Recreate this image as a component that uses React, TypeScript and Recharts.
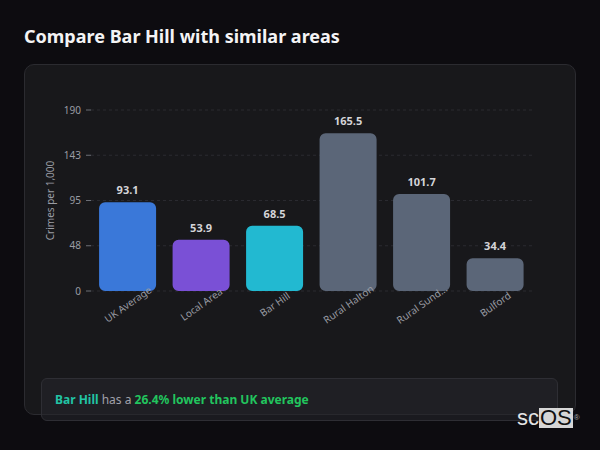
import { Bar, BarChart, CartesianGrid, Cell, LabelList, XAxis, YAxis } from "recharts";

const areas = ["UK Average", "Local Area", "Bar Hill", "Rural Halton", "Rural Sunderland", "Bulford"];
const rates = [93.1, 53.9, 68.5, 165.5, 101.7, 34.4];
const barColors = ["#3a78d9", "#7a50d6", "#22b9d1", "#5b6678", "#5b6678", "#5b6678"];
const yTicks = [0, 47.5, 95, 142.5, 190];

const data = areas.map((name, i) => ({ name, value: rates[i], color: barColors[i] }));

const FONT = "'Noto Sans', 'Open Sans', sans-serif";

// category label, centred under the bar and tilted
function AreaTick({ x, y, payload }: any) {
  const raw: string = payload.value;
  const text = raw.length > 12 ? raw.slice(0, 10) + "..." : raw;
  const ty = y + 5;
  return (
    <text
      x={x}
      y={ty}
      transform={`rotate(-35, ${x}, ${ty})`}
      textAnchor="middle"
      dominantBaseline="central"
      fill="#9a9ca4"
      fontSize={10}
      fontFamily={FONT}
    >
      {text}
    </text>
  );
}

export default function App() {
  return (
    <div
      style={{
        position: "absolute",
        left: 0,
        top: 0,
        width: 600,
        height: 450,
        background: "#0d0c10",
        fontFamily: FONT,
        overflow: "hidden",
      }}
    >
      <div
        style={{
          position: "absolute",
          left: 24,
          top: 24,
          fontSize: 18,
          fontWeight: 700,
          color: "#f4f4f5",
          lineHeight: "24px",
        }}
      >
        Compare Bar Hill with similar areas
      </div>

      <div
        style={{
          position: "absolute",
          left: 24,
          top: 64,
          width: 552,
          height: 351,
          boxSizing: "border-box",
          border: "1px solid #2b2b30",
          borderRadius: 10,
          background: "#18181b",
        }}
      />

      <div style={{ position: "absolute", left: 24, top: 64 }}>
        <BarChart
          width={552}
          height={310}
          data={data}
          margin={{ top: 46, right: 44, bottom: 0, left: 0 }}
          barCategoryGap="11%"
        >
          <CartesianGrid vertical={false} stroke="#2a2a30" strokeDasharray="3 3" />
          <XAxis
            dataKey="name"
            axisLine={false}
            tickLine={false}
            interval={0}
            height={83}
            tick={<AreaTick />}
          />
          <YAxis
            width={67}
            domain={[0, 190]}
            ticks={yTicks}
            axisLine={false}
            tickSize={5}
            tickMargin={5}
            tickLine={{ stroke: "#6b6e76" }}
            tickFormatter={(v: number) => String(Math.round(v))}
            tick={{ fill: "#9a9ca4", fontSize: 10, fontFamily: FONT }}
            label={{
              value: "Crimes per 1,000",
              angle: -90,
              position: "insideLeft",
              offset: 26,
              style: { textAnchor: "middle", fill: "#9a9ca4", fontSize: 10, fontFamily: FONT },
            }}
          />
          <Bar dataKey="value" radius={6} isAnimationActive={false}>
            {data.map((d) => (
              <Cell key={d.name} fill={d.color} />
            ))}
            <LabelList
              dataKey="value"
              position="top"
              offset={8}
              fill="#d4d4d8"
              fontSize={11}
              fontWeight={700}
              fontFamily={FONT}
            />
          </Bar>
        </BarChart>
      </div>

      <div
        style={{
          position: "absolute",
          left: 41,
          top: 378,
          width: 517,
          height: 43,
          boxSizing: "border-box",
          border: "1px solid #2e2e34",
          borderRadius: 6,
          background: "rgba(38,38,43,0.55)",
          padding: "0 13px",
          display: "flex",
          alignItems: "center",
          fontSize: 12,
          color: "#a1a1aa",
          whiteSpace: "pre",
        }}
      >
        <span style={{ color: "#22c4a4", fontWeight: 700 }}>Bar Hill</span>
        <span> has a </span>
        <span style={{ color: "#22c55e", fontWeight: 700 }}>26.4% lower than UK average</span>
      </div>

      <div
        style={{
          position: "absolute",
          left: 517,
          top: 408,
          height: 20,
          display: "flex",
          alignItems: "center",
          fontFamily: "'Liberation Sans', Arial, sans-serif",
          fontSize: 22,
          lineHeight: "20px",
        }}
      >
        <span style={{ color: "#e4e4e4" }}>sc</span>
        <span style={{ background: "#d6d6d6", color: "#111", padding: "0 1px" }}>OS</span>
        <span style={{ color: "#aaa", fontSize: 8, alignSelf: "flex-start", marginLeft: 1 }}>®</span>
      </div>
    </div>
  );
}
